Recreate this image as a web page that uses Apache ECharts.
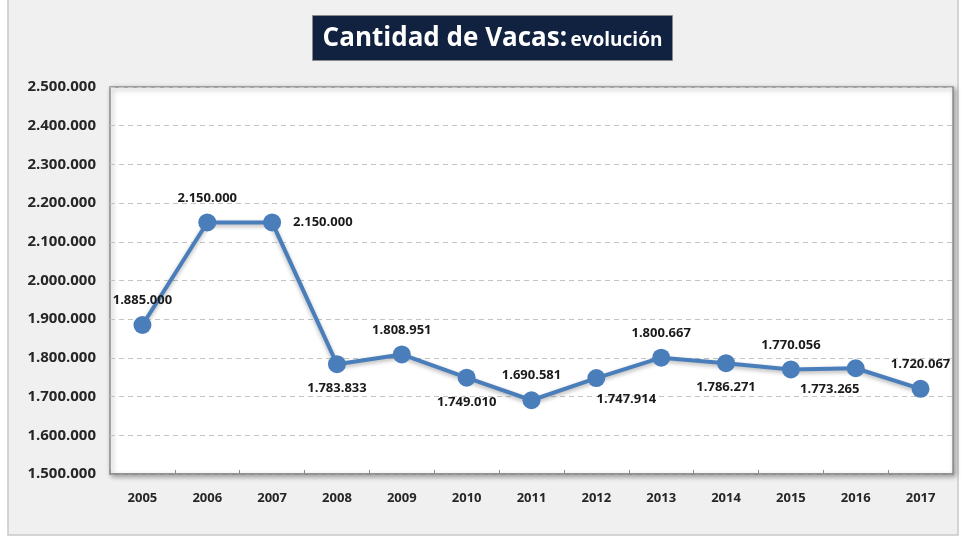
<!DOCTYPE html>
<html>
<head>
<meta charset="utf-8">
<script src="https://cdn.jsdelivr.net/npm/echarts@6/dist/echarts.min.js"></script>
<style>
  html, body { margin: 0; padding: 0; background: #ffffff; }
  #chart { width: 962px; height: 538px; }
</style>
</head>
<body>
<div id="chart"></div>
<script>
const years = ['2005', '2006', '2007', '2008', '2009', '2010', '2011', '2012', '2013', '2014', '2015', '2016', '2017'];
const vacas = [1885000, 2150000, 2150000, 1783833, 1808951, 1749010, 1690581, 1747914, 1800667, 1786271, 1770056, 1773265, 1720067];

// label placement, like the excel chart
const labelPlace = ['top', 'top', 'right', 'bottom', 'top', 'bottom', 'top', 'bottomRight', 'top', 'bottom', 'top', 'bottomLeft', 'top'];

function fmt(v) {
  return String(v).replace(/\B(?=(\d{3})+(?!\d))/g, '.');
}

const chart = echarts.init(document.getElementById('chart'));

const seriesData = vacas.map(function (v, i) {
  const p = labelPlace[i];
  let label = { position: p };
  if (p === 'right') label = { position: 'right', distance: 12 };
  if (p === 'bottomRight') label = { position: 'bottom', offset: [30, -3] };
  if (p === 'bottomLeft') label = { position: 'bottom', offset: [-26, -3] };
  return { value: v, label: label };
});

chart.setOption({
  backgroundColor: '#ffffff',
  textStyle: { fontFamily: 'Open Sans' },
  graphic: [
    {
      type: 'rect',
      shape: { x: 8, y: -2, width: 950, height: 537 },
      style: { fill: '#f0f0f0', stroke: '#c8c8c8', lineWidth: 1.5 },
      z: -10
    },
    {
      type: 'group',
      left: 312,
      top: 15,
      children: [
        {
          type: 'rect',
          shape: { x: 0, y: 0, width: 360, height: 45 },
          style: { fill: '#10223f', stroke: '#8a8a8a', lineWidth: 1 }
        },
        {
          type: 'text',
          x: 180,
          y: 23,
          style: {
            text: '{a|Cantidad de Vacas:} {b|evolución}',
            align: 'center',
            verticalAlign: 'middle',
            rich: {
              a: { fontSize: 26, fontWeight: 'bold', fill: '#ffffff', fontFamily: 'Open Sans' },
              b: { fontSize: 19, fontWeight: 'bold', fill: '#ffffff', fontFamily: 'Open Sans', padding: [4, 0, 0, 0] }
            }
          }
        }
      ]
    }
  ],
  grid: {
    left: 110,
    right: 9,
    top: 87,
    bottom: 64,
    show: true,
    backgroundColor: '#ffffff',
    borderColor: '#8c8c8c',
    borderWidth: 1.5,
    shadowColor: 'rgba(0,0,0,0.35)',
    shadowBlur: 5,
    shadowOffsetX: 2,
    shadowOffsetY: 2
  },
  xAxis: {
    type: 'category',
    data: years,
    boundaryGap: true,
    axisLine: { lineStyle: { color: '#8c8c8c', width: 1.5 } },
    axisTick: { show: true, length: 4, inside: true, lineStyle: { color: '#8c8c8c' } },
    axisLabel: { color: '#262626', fontWeight: 'bold', fontSize: 13, margin: 18 }
  },
  yAxis: {
    type: 'value',
    min: 1500000,
    max: 2500000,
    interval: 100000,
    axisLine: { show: false },
    axisTick: { show: false },
    axisLabel: {
      color: '#262626',
      fontWeight: 'bold',
      fontSize: 15,
      margin: 14,
      formatter: function (v) { return fmt(v); }
    },
    splitLine: { lineStyle: { color: '#c4c4c4', type: [5, 4], width: 1 } }
  },
  series: [
    {
      type: 'line',
      data: seriesData,
      symbol: 'circle',
      symbolSize: 18,
      color: '#4a7ebb',
      lineStyle: {
        width: 4,
        color: '#4a7ebb',
        shadowColor: 'rgba(0,0,0,0.3)',
        shadowBlur: 4,
        shadowOffsetY: 2
      },
      itemStyle: { color: '#4a7ebb' },
      label: {
        show: true,
        color: '#1a1a1a',
        fontWeight: 'bold',
        fontSize: 13,
        distance: 9,
        formatter: function (p) { return fmt(p.value); }
      }
    }
  ]
});
</script>
</body>
</html>
